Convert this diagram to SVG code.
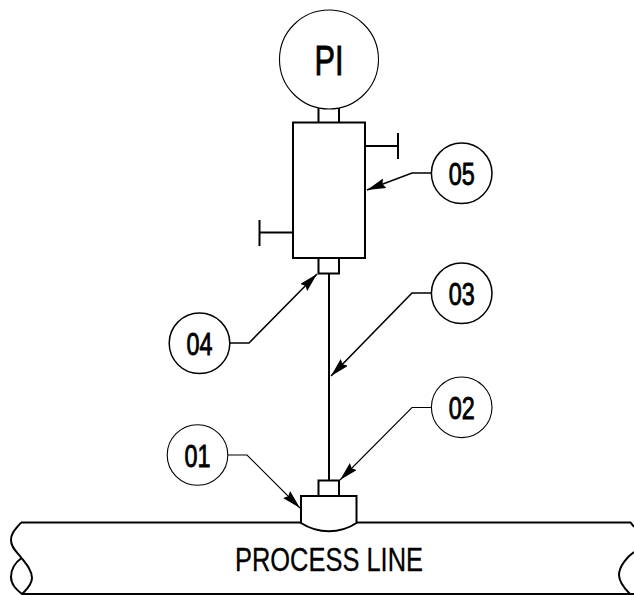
<svg xmlns="http://www.w3.org/2000/svg" width="634" height="595" viewBox="0 0 634 595">
<style>
.l{fill:none;stroke:#000;stroke-width:2}
.c{fill:#fff;stroke:#000;stroke-width:1.5}
.c2{fill:#fff;stroke:#000;stroke-width:1.1}
.h{fill:none;stroke:#000;stroke-width:1.6}
.t{fill:none;stroke:#000;stroke-width:1.1}
text{font-family:"Liberation Sans",Arial,sans-serif;fill:#000;text-anchor:middle}
.n{font-size:32px;stroke:#000;stroke-width:.9}
</style>
<defs>
<marker id="a" markerUnits="userSpaceOnUse" markerWidth="22" markerHeight="12" refX="19" refY="5" orient="auto"><path d="M0 0L19 5L0 10L2.500 5Z" fill="#000"/></marker>
</defs>
<rect width="634" height="595" fill="#fff"/>
<g id="process-line">
<path class="l" d="M21 522.500H301M356.500 522.500H630.500L634 527M22 594H634"/>
<path class="l" d="M21 522.500C15 530 11 533 11 540C11 548 17 552 21.500 558C27 565 32 571 32 578C32 585 26 590 22 594C17 590 11 585 11 577C11 569 16 562 21.500 558"/>
<path class="l" d="M634 552C628 556 619 566 619 575C619 583 626 590 630 594"/>
<text x="329" y="571" font-size="33" stroke="#000" stroke-width=".3" textLength="188" lengthAdjust="spacingAndGlyphs">PROCESS LINE</text>
</g>
<g id="saddle"><path class="l" d="M301 523V496H356.500V523C340 534 318 534 301 523Z"/><rect class="l" x="318.500" y="480.500" width="20.500" height="15.500"/></g>
<g id="tube"><path class="l" d="M329 273V480.500"/></g>
<g id="bottom-nipple"><rect class="l" x="318.500" y="258" width="20.500" height="15.500"/></g>
<g id="gauge-body"><rect class="l" x="293" y="122.500" width="72" height="135.500"/>
<path class="l" d="M318.500 108V122M339 108V122M365 146H398M398 133V159M293 232.500H260M259.500 220V246"/></g>
<g id="pi"><circle class="c2" cx="329" cy="59.500" r="49.500"/><text x="329" y="75" font-size="43" stroke="#000" stroke-width=".9" textLength="29" lengthAdjust="spacingAndGlyphs">PI</text></g>
<g id="connectors">
<polyline class="h" points="431,173 412,173 367,190" marker-end="url(#a)"/>
<polyline class="h" points="230,343 249,343 317,274" marker-end="url(#a)"/>
<polyline class="h" points="431,293 412,293 331,376" marker-end="url(#a)"/>
<polyline class="t" points="431,407.500 412,407.500 340,480" marker-end="url(#a)"/>
<polyline class="t" points="228,455 247,455 300,508" marker-end="url(#a)"/>
</g>
<g id="n05"><circle class="c" cx="461.700" cy="173.300" r="30.300"/><text class="n" x="461.700" y="185" textLength="26" lengthAdjust="spacingAndGlyphs">05</text></g>
<g id="n04"><circle class="c" cx="199.500" cy="343.300" r="30.300"/><text class="n" x="199.500" y="355" textLength="26" lengthAdjust="spacingAndGlyphs">04</text></g>
<g id="n03"><circle class="c" cx="461.700" cy="293.300" r="30.300"/><text class="n" x="461.700" y="305" textLength="26" lengthAdjust="spacingAndGlyphs">03</text></g>
<g id="n02"><circle class="c2" cx="461.700" cy="407.300" r="30.300"/><text class="n" x="461.700" y="419" textLength="26" lengthAdjust="spacingAndGlyphs">02</text></g>
<g id="n01"><circle class="c2" cx="197.500" cy="455" r="30.300"/><text class="n" x="197.500" y="466.700" textLength="26" lengthAdjust="spacingAndGlyphs">01</text></g>
</svg>
